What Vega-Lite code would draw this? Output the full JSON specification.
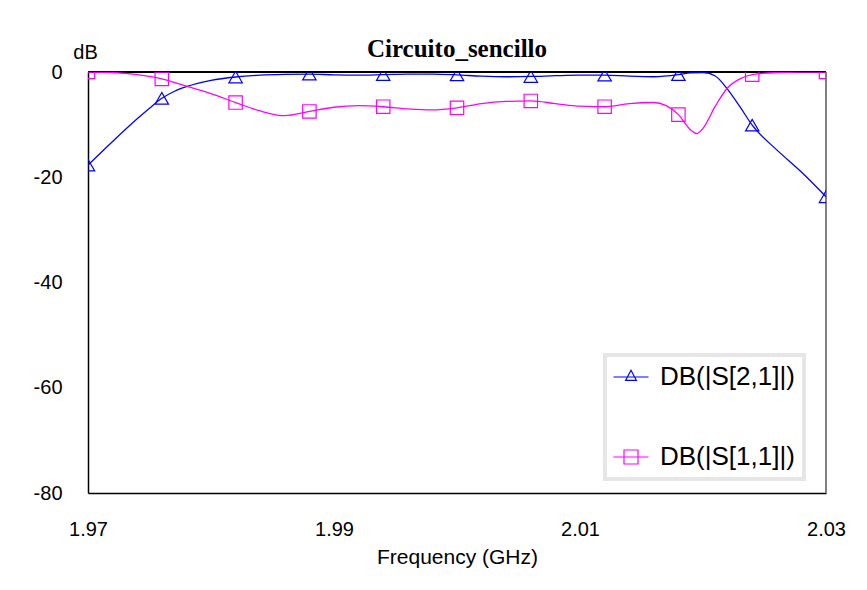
{
  "$schema": "https://vega.github.io/schema/vega-lite/v6.json",
  "autosize": {"type": "none"},
  "width": 738,
  "height": 421,
  "padding": {"left": 88, "top": 72, "right": 41, "bottom": 97},
  "background": "white",
  "title": {
    "text": "Circuito_sencillo",
    "font": "Liberation Serif",
    "fontSize": 25,
    "fontWeight": "bold",
    "color": "black",
    "anchor": "middle",
    "frame": "group",
    "baseline": "alphabetic",
    "offset": 15,
    "dy": 55
  },
  "config": {
    "view": {"stroke": null},
    "axis": {
      "labelFont": "Liberation Sans",
      "labelFontSize": 20,
      "labelColor": "black",
      "labelFlush": false,
      "titleFont": "Liberation Sans",
      "titleFontWeight": "normal",
      "titleColor": "black",
      "ticks": false,
      "domainColor": "black",
      "domainWidth": 1.5,
      "gridColor": "#c0c0c0",
      "gridWidth": 1,
      "gridOpacity": 1
    },
    "legend": {
      "orient": "none",
      "legendX": 517,
      "legendY": 283,
      "title": null,
      "fillColor": "white",
      "strokeColor": "#e6e6e6",
      "strokeWidth": 4,
      "padding": 9,
      "labelFont": "Liberation Sans",
      "labelFontSize": 26,
      "labelColor": "black",
      "labelOffset": 20,
      "rowPadding": 54,
      "symbolSize": 225,
      "symbolStrokeWidth": 1.2,
      "symbolOpacity": 1
    }
  },
  "datasets": {
    "curves": [
      {"f": 1.970, "s": "DB(|S[2,1]|)", "db": -17.7},
      {"f": 1.972, "s": "DB(|S[2,1]|)", "db": -13.2},
      {"f": 1.974, "s": "DB(|S[2,1]|)", "db": -8.9},
      {"f": 1.975, "s": "DB(|S[2,1]|)", "db": -6.9},
      {"f": 1.976, "s": "DB(|S[2,1]|)", "db": -5.0},
      {"f": 1.977, "s": "DB(|S[2,1]|)", "db": -3.7},
      {"f": 1.978, "s": "DB(|S[2,1]|)", "db": -2.8},
      {"f": 1.980, "s": "DB(|S[2,1]|)", "db": -1.6},
      {"f": 1.982, "s": "DB(|S[2,1]|)", "db": -0.95},
      {"f": 1.984, "s": "DB(|S[2,1]|)", "db": -0.6},
      {"f": 1.986, "s": "DB(|S[2,1]|)", "db": -0.45},
      {"f": 1.988, "s": "DB(|S[2,1]|)", "db": -0.4},
      {"f": 1.990, "s": "DB(|S[2,1]|)", "db": -0.55},
      {"f": 1.992, "s": "DB(|S[2,1]|)", "db": -0.6},
      {"f": 1.994, "s": "DB(|S[2,1]|)", "db": -0.5},
      {"f": 1.996, "s": "DB(|S[2,1]|)", "db": -0.4},
      {"f": 1.998, "s": "DB(|S[2,1]|)", "db": -0.4},
      {"f": 2.000, "s": "DB(|S[2,1]|)", "db": -0.55},
      {"f": 2.002, "s": "DB(|S[2,1]|)", "db": -0.8},
      {"f": 2.004, "s": "DB(|S[2,1]|)", "db": -0.9},
      {"f": 2.006, "s": "DB(|S[2,1]|)", "db": -0.85},
      {"f": 2.008, "s": "DB(|S[2,1]|)", "db": -0.7},
      {"f": 2.010, "s": "DB(|S[2,1]|)", "db": -0.6},
      {"f": 2.012, "s": "DB(|S[2,1]|)", "db": -0.6},
      {"f": 2.014, "s": "DB(|S[2,1]|)", "db": -0.8},
      {"f": 2.016, "s": "DB(|S[2,1]|)", "db": -0.9},
      {"f": 2.018, "s": "DB(|S[2,1]|)", "db": -0.5},
      {"f": 2.019, "s": "DB(|S[2,1]|)", "db": -0.15},
      {"f": 2.020, "s": "DB(|S[2,1]|)", "db": -0.1},
      {"f": 2.021, "s": "DB(|S[2,1]|)", "db": -0.75},
      {"f": 2.022, "s": "DB(|S[2,1]|)", "db": -3.3},
      {"f": 2.023, "s": "DB(|S[2,1]|)", "db": -6.6},
      {"f": 2.024, "s": "DB(|S[2,1]|)", "db": -10.1},
      {"f": 2.026, "s": "DB(|S[2,1]|)", "db": -14.8},
      {"f": 2.028, "s": "DB(|S[2,1]|)", "db": -19.0},
      {"f": 2.030, "s": "DB(|S[2,1]|)", "db": -23.7},
      {"f": 1.970, "s": "DB(|S[1,1]|)", "db": 0},
      {"f": 1.972, "s": "DB(|S[1,1]|)", "db": -0.1},
      {"f": 1.974, "s": "DB(|S[1,1]|)", "db": -0.5},
      {"f": 1.976, "s": "DB(|S[1,1]|)", "db": -1.3},
      {"f": 1.978, "s": "DB(|S[1,1]|)", "db": -2.7},
      {"f": 1.980, "s": "DB(|S[1,1]|)", "db": -4.1},
      {"f": 1.982, "s": "DB(|S[1,1]|)", "db": -5.8},
      {"f": 1.984, "s": "DB(|S[1,1]|)", "db": -7.4},
      {"f": 1.986, "s": "DB(|S[1,1]|)", "db": -8.3},
      {"f": 1.988, "s": "DB(|S[1,1]|)", "db": -7.5},
      {"f": 1.990, "s": "DB(|S[1,1]|)", "db": -6.7},
      {"f": 1.992, "s": "DB(|S[1,1]|)", "db": -6.4},
      {"f": 1.994, "s": "DB(|S[1,1]|)", "db": -6.6},
      {"f": 1.996, "s": "DB(|S[1,1]|)", "db": -7.0},
      {"f": 1.998, "s": "DB(|S[1,1]|)", "db": -7.2},
      {"f": 2.000, "s": "DB(|S[1,1]|)", "db": -6.8},
      {"f": 2.002, "s": "DB(|S[1,1]|)", "db": -6.0},
      {"f": 2.004, "s": "DB(|S[1,1]|)", "db": -5.6},
      {"f": 2.006, "s": "DB(|S[1,1]|)", "db": -5.5},
      {"f": 2.008, "s": "DB(|S[1,1]|)", "db": -6.0},
      {"f": 2.010, "s": "DB(|S[1,1]|)", "db": -6.5},
      {"f": 2.012, "s": "DB(|S[1,1]|)", "db": -6.6},
      {"f": 2.014, "s": "DB(|S[1,1]|)", "db": -6.0},
      {"f": 2.016, "s": "DB(|S[1,1]|)", "db": -5.8},
      {"f": 2.017, "s": "DB(|S[1,1]|)", "db": -6.4},
      {"f": 2.018, "s": "DB(|S[1,1]|)", "db": -8.1},
      {"f": 2.019, "s": "DB(|S[1,1]|)", "db": -11.0},
      {"f": 2.0195, "s": "DB(|S[1,1]|)", "db": -11.7},
      {"f": 2.020, "s": "DB(|S[1,1]|)", "db": -10.7},
      {"f": 2.021, "s": "DB(|S[1,1]|)", "db": -6.5},
      {"f": 2.022, "s": "DB(|S[1,1]|)", "db": -3.0},
      {"f": 2.023, "s": "DB(|S[1,1]|)", "db": -1.3},
      {"f": 2.024, "s": "DB(|S[1,1]|)", "db": -0.5},
      {"f": 2.026, "s": "DB(|S[1,1]|)", "db": -0.1},
      {"f": 2.028, "s": "DB(|S[1,1]|)", "db": 0},
      {"f": 2.030, "s": "DB(|S[1,1]|)", "db": 0}
    ]
  },
  "data": {"name": "curves"},
  "layer": [
    {
      "mark": {"type": "rule", "color": "black", "strokeWidth": 1.5},
      "encoding": {"y": {"datum": 0, "type": "quantitative"}}
    },
    {
      "mark": {"type": "rule", "color": "#808080", "strokeWidth": 1.5},
      "encoding": {"x": {"datum": 2.03, "type": "quantitative"}}
    },
    {
      "mark": {"type": "line", "interpolate": "monotone", "strokeWidth": 1.3, "clip": true},
      "encoding": {
        "x": {
          "field": "f", "type": "quantitative",
          "scale": {"domain": [1.97, 2.03], "nice": false, "zero": false},
          "axis": {
            "values": [1.97, 1.99, 2.01, 2.03],
            "format": ".2f",
            "labelPadding": 26,
            "title": "Frequency (GHz)",
            "titleFontSize": 21,
            "titleBaseline": "alphabetic",
            "titleY": 70
          }
        },
        "y": {
          "field": "db", "type": "quantitative",
          "scale": {"domain": [-80, 0], "nice": false, "zero": false},
          "axis": {
            "values": [0, -20, -40, -60, -80],
            "labelExpr": "datum.value == 0 ? '0' : '-' + abs(datum.value)",
            "labelPadding": 26,
            "title": "dB",
            "titleFontSize": 20,
            "titleAngle": 0,
            "titleAlign": "center",
            "titleBaseline": "alphabetic",
            "titleX": -3,
            "titleY": -14
          }
        },
        "color": {
          "field": "s", "type": "nominal",
          "scale": {"domain": ["DB(|S[2,1]|)", "DB(|S[1,1]|)"], "range": ["#0000ff", "#ff00ff"]}
        }
      }
    },
    {
      "transform": [
        {"filter": {"field": "s", "equal": "DB(|S[2,1]|)"}},
        {"filter": {"field": "f", "oneOf": [1.97, 1.976, 1.982, 1.988, 1.994, 2.0, 2.006, 2.012, 2.018, 2.024, 2.03]}}
      ],
      "mark": {"type": "point", "shape": "triangle-up", "filled": false, "size": 180, "strokeWidth": 1.2, "opacity": 1, "clip": true},
      "encoding": {
        "x": {"field": "f", "type": "quantitative"},
        "y": {"field": "db", "type": "quantitative"},
        "color": {"field": "s", "type": "nominal"}
      }
    },
    {
      "transform": [
        {"filter": {"field": "s", "equal": "DB(|S[1,1]|)"}},
        {"filter": {"field": "f", "oneOf": [1.97, 1.976, 1.982, 1.988, 1.994, 2.0, 2.006, 2.012, 2.018, 2.024, 2.03]}}
      ],
      "mark": {"type": "point", "shape": "square", "filled": false, "size": 180, "strokeWidth": 1.2, "opacity": 1, "clip": true},
      "encoding": {
        "x": {"field": "f", "type": "quantitative"},
        "y": {"field": "db", "type": "quantitative"},
        "color": {"field": "s", "type": "nominal"}
      }
    },
    {
      "transform": [
        {"filter": {"field": "f", "equal": 2.0}}
      ],
      "mark": {"type": "point", "filled": false, "opacity": 0, "strokeWidth": 1.2},
      "encoding": {
        "x": {"field": "f", "type": "quantitative"},
        "y": {"field": "db", "type": "quantitative"},
        "color": {"field": "s", "type": "nominal"},
        "shape": {
          "field": "s", "type": "nominal",
          "scale": {
            "domain": ["DB(|S[2,1]|)", "DB(|S[1,1]|)"],
            "range": ["M-1.8,0H2.867M-0.18,0.44L0.533,-0.89L1.25,0.44Z", "M-1.8,0H2.867M-0.4,-0.933H1.467V0.933H-0.4Z"]
          }
        }
      }
    }
  ]
}
